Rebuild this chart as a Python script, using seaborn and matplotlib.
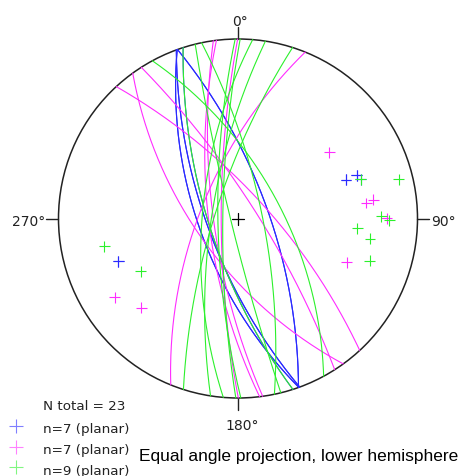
import numpy as np
import pandas as pd
import matplotlib
matplotlib.use("Agg")
import matplotlib.pyplot as plt
import seaborn as sns

blue_dipdir = [250.2, 250.2, 249.9, 249.9, 252.2, 70.3, 70.3]
blue_dip = [65.2, 65.2, 70.3, 70.3, 71.4, 70.6, 70.6]

pink_dipdir = [234.1, 263.1, 262.1, 269.9, 292.0, 57.4, 47.3]
pink_dip = [64.3, 71.4, 74.5, 79.3, 66.3, 78.3, 72.5]

green_dipdir = [252.2, 256.2, 269.1, 270.7, 274.7, 278.8, 287.7, 78.3, 61.5]
green_dip = [71.4, 85.3, 77.2, 80.3, 67.4, 73.3, 75.3, 74.6, 63.3]

set_names = ["blue", "pink", "green"]
set_labels = ["n=7 (planar)", "n=7 (planar)", "n=9 (planar)"]
palette = {"blue": "#2a2aff", "pink": "#ff2cff", "green": "#2cf02c"}
dir_labels = ["0°", "90°", "180°", "270°"]
n_total = len(blue_dip) + len(pink_dip) + len(green_dip)

# layout in pixels
W, H = 460, 477
CX, CY, R = 238.0, 219.5, 179.5


def to_px(e, n, d):
    """Lower hemisphere equal angle (stereographic) projection -> pixel coords."""
    X = e / (1.0 + d)
    Y = n / (1.0 + d)
    return CX + R * X, CY - R * Y


def great_circle(dipdir, dip, npts=181):
    a, b = np.radians(dipdir), np.radians(dip)
    s = a - np.pi / 2
    t = np.linspace(0, np.pi, npts)
    sv = np.array([np.sin(s), np.cos(s), 0.0])
    dv = np.array([np.cos(b) * np.sin(a), np.cos(b) * np.cos(a), np.sin(b)])
    v = np.outer(np.cos(t), sv) + np.outer(np.sin(t), dv)
    return to_px(v[:, 0], v[:, 1], np.clip(v[:, 2], 0, None))


def pole(dipdir, dip):
    a, b = np.radians(dipdir), np.radians(dip)
    return to_px(-np.sin(b) * np.sin(a), -np.sin(b) * np.cos(a), np.cos(b))


rows, prows = [], []
sets = [(blue_dipdir, blue_dip), (pink_dipdir, pink_dip), (green_dipdir, green_dip)]
for name, (dd, dp) in zip(set_names, sets):
    for i, (a, b) in enumerate(zip(dd, dp)):
        xs, ys = great_circle(a, b)
        rows.append(pd.DataFrame({"x": xs, "y": ys, "set": name, "plane": f"{name}{i}"}))
        px, py = pole(a, b)
        prows.append({"x": px, "y": py, "set": name})
gc = pd.concat(rows, ignore_index=True)
poles = pd.DataFrame(prows)

sns.set_theme(style="white")
plt.rcParams["font.family"] = ["DejaVu Sans"]

fig = plt.figure(figsize=(W / 100, H / 100), dpi=100)
ax = fig.add_axes([0, 0, 1, 1])
ax.set_xlim(0, W)
ax.set_ylim(H, 0)
ax.set_axis_off()

# primitive circle + ticks
ax.add_patch(plt.Circle((CX, CY), R, fill=False, color="#222222", lw=1.1))
tick = 12
ax.plot([CX, CX], [CY - R, CY - R - tick], color="#222222", lw=1.0)
ax.plot([CX, CX], [CY + R, CY + R + tick], color="#222222", lw=1.0)
ax.plot([CX - R, CX - R - tick], [CY, CY], color="#222222", lw=1.0)
ax.plot([CX + R, CX + R + tick], [CY, CY], color="#222222", lw=1.0)
ax.plot([CX - 6, CX + 6], [CY, CY], color="black", lw=0.9)
ax.plot([CX, CX], [CY - 6, CY + 6], color="black", lw=0.9)

lab = dict(fontsize=10, color="#222222")
ax.text(CX + 2, CY - R - 14, dir_labels[0], ha="center", va="baseline", **lab)
ax.text(CX + R + tick + 2, CY + 7, dir_labels[1], ha="left", va="baseline", **lab)
ax.text(CX + 4, CY + R + 31, dir_labels[2], ha="center", va="baseline", **lab)
ax.text(CX - R - tick - 1, CY + 7, dir_labels[3], ha="right", va="baseline", **lab)

sns.lineplot(data=gc, x="x", y="y", hue="set", units="plane", estimator=None,
             sort=False, palette=palette, lw=0.8, legend=False, ax=ax)
sns.scatterplot(data=poles, x="x", y="y", hue="set", marker="+", s=62,
                linewidth=0.8, palette=palette, legend=False, ax=ax)
ax.set_xlim(0, W)
ax.set_ylim(H, 0)

# legend block
ax.text(43, 410, f"N total = {n_total}", ha="left", va="baseline", fontsize=9.7, color="#222222")
for k, (name, txt) in enumerate(zip(set_names, set_labels)):
    yb = 433.5 + k * 20.7
    ax.scatter([16], [yb - 6.5], marker="+", s=110, lw=0.8, color=palette[name], alpha=0.6)
    ax.text(43, yb, txt, ha="left", va="baseline", fontsize=9.7, color="#222222")

ax.text(139.5, 461, "Equal angle projection, lower hemisphere", ha="left", va="baseline",
        fontsize=12.5, family="Liberation Sans", color="black")

fig.savefig("out.png", dpi=100)
